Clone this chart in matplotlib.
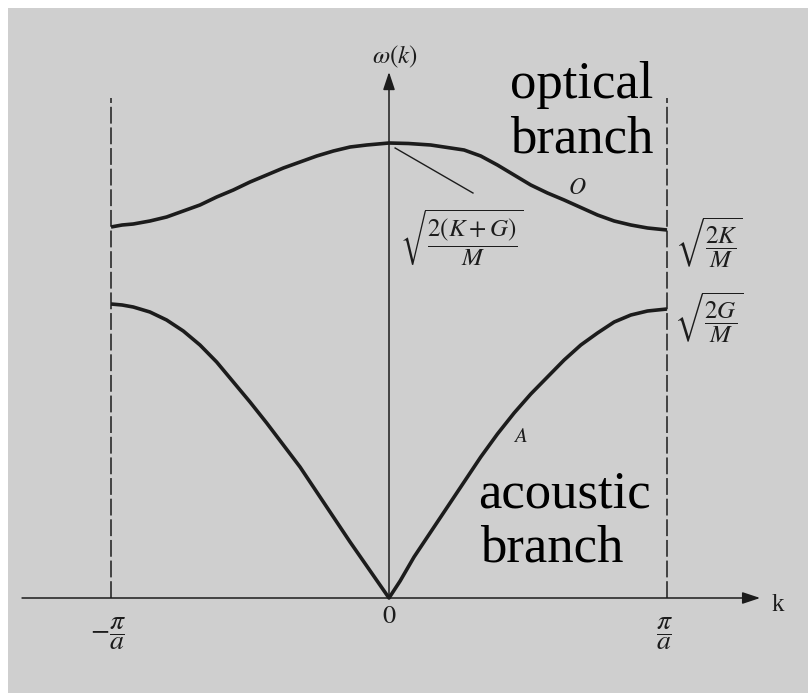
import matplotlib
matplotlib.use("Agg")
import matplotlib.pyplot as plt
from matplotlib.patches import Rectangle

plt.rcParams['font.family'] = ['Liberation Serif', 'DejaVu Serif']
plt.rcParams['mathtext.fontset'] = 'stix'

# wave number in units of pi/a, frequency in arbitrary units
k_opt = [-1.0, -0.96, -0.92, -0.86, -0.8, -0.74, -0.68, -0.62, -0.56, -0.5,
         -0.44, -0.38, -0.32, -0.26, -0.2, -0.14, -0.08, -0.04, 0.0,
         0.07, 0.15, 0.21, 0.27, 0.33, 0.39, 0.45, 0.51, 0.57, 0.63,
         0.69, 0.75, 0.81, 0.87, 0.93, 1.0]
w_opt = [3.71, 3.73, 3.74, 3.77, 3.81, 3.87, 3.93, 4.01, 4.08, 4.16,
         4.23, 4.30, 4.36, 4.42, 4.47, 4.51, 4.53, 4.54, 4.55,
         4.545, 4.53, 4.505, 4.48, 4.42, 4.33, 4.23, 4.13, 4.05, 3.98,
         3.905, 3.83, 3.77, 3.73, 3.70, 3.68]

k_ac = [-1.0, -0.96, -0.92, -0.86, -0.8, -0.74, -0.68, -0.62, -0.56, -0.5,
        -0.44, -0.38, -0.32, -0.26, -0.2, -0.14, -0.08, -0.04, 0.0,
        0.04, 0.09, 0.15, 0.21, 0.27, 0.33, 0.39, 0.45, 0.51, 0.57,
        0.63, 0.69, 0.75, 0.81, 0.87, 0.93, 1.0]
w_ac = [2.94, 2.93, 2.91, 2.86, 2.78, 2.67, 2.53, 2.36, 2.16, 1.96,
        1.75, 1.53, 1.31, 1.06, 0.81, 0.56, 0.32, 0.16, 0.0,
        0.17, 0.41, 0.66, 0.91, 1.16, 1.41, 1.64, 1.85, 2.04, 2.21,
        2.38, 2.53, 2.65, 2.76, 2.83, 2.87, 2.89]

zone_edges = [-1.0, 1.0]
zone_top = 5.0
tick_pos = [-1.0, 0.0, 1.0]
tick_txt = [r'$-\dfrac{\pi}{a}$', r'$0$', r'$\dfrac{\pi}{a}$']

ink = '#1c1c1c'
paper = '#cfcfcf'

fig = plt.figure(figsize=(8.08, 6.93), dpi=100)
fig.patches.append(Rectangle((8 / 808, 0), 1, 1 - 8 / 693, transform=fig.transFigure,
                             facecolor=paper, edgecolor='none', zorder=-10))
ax = fig.add_axes([0, 0, 1, 1])
ax.set_xlim(-1.3993, 1.5072)
ax.set_ylim(-0.95, 5.98)
ax.axis('off')
ax.patch.set_alpha(0)

# branches
ax.plot(k_opt, w_opt, color=ink, lw=2.6, solid_capstyle='butt', solid_joinstyle='round')
ax.plot(k_ac, w_ac, color=ink, lw=2.6, solid_capstyle='butt', solid_joinstyle='round')

# Brillouin zone boundaries
for x in zone_edges:
    ax.plot([x, x], [0, zone_top], color=ink, lw=1.1, ls=(0, (11, 2.5)))

# axes with arrows
head = dict(arrowstyle='-|>,head_length=0.9,head_width=0.3', lw=1.1,
            color=ink, mutation_scale=12, shrinkA=0, shrinkB=0)
ax.annotate('', xy=(1.335, 0), xytext=(-1.32, 0), arrowprops=head)
ax.annotate('', xy=(0, 5.26), xytext=(0, 0), arrowprops=head)
ax.text(1.40, -0.07, 'k', fontsize=18, color=ink, ha='center', va='center')
ax.text(0.02, 5.41, r'$\omega(k)$', fontsize=18, color=ink, ha='center', va='center')

for x, t in zip(tick_pos, tick_txt):
    if x == 0:
        ax.text(x, -0.19, t, fontsize=19, color=ink, ha='center', va='center')
    else:
        ax.text(x - 0.01, -0.36, t, fontsize=20, color=ink, ha='center', va='center')

# limiting frequencies
ax.plot([0.022, 0.302], [4.50, 4.05], color=ink, lw=1.0)
ax.text(0.263, 3.60, r'$\sqrt{\dfrac{2(K+G)}{M}}$', fontsize=18, color=ink,
        ha='center', va='center')
ax.text(1.151, 3.55, r'$\sqrt{\dfrac{2K}{M}}$', fontsize=18, color=ink,
        ha='center', va='center')
ax.text(1.151, 2.80, r'$\sqrt{\dfrac{2G}{M}}$', fontsize=18, color=ink,
        ha='center', va='center')
ax.text(0.676, 4.10, r'$O$', fontsize=17, color=ink, ha='center', va='center')
ax.text(0.471, 1.60, r'$A$', fontsize=15, color=ink, ha='center', va='center')

# branch names
big = dict(fontsize=38, color='black', ha='left', va='baseline')
ax.text(0.435, 5.00, 'optical', **big)
ax.text(0.435, 4.46, 'branch', **big)
ax.text(0.320, 0.90, 'acoustic', **big)
ax.text(0.327, 0.36, 'branch', **big)

fig.savefig('out.png', dpi=100)
